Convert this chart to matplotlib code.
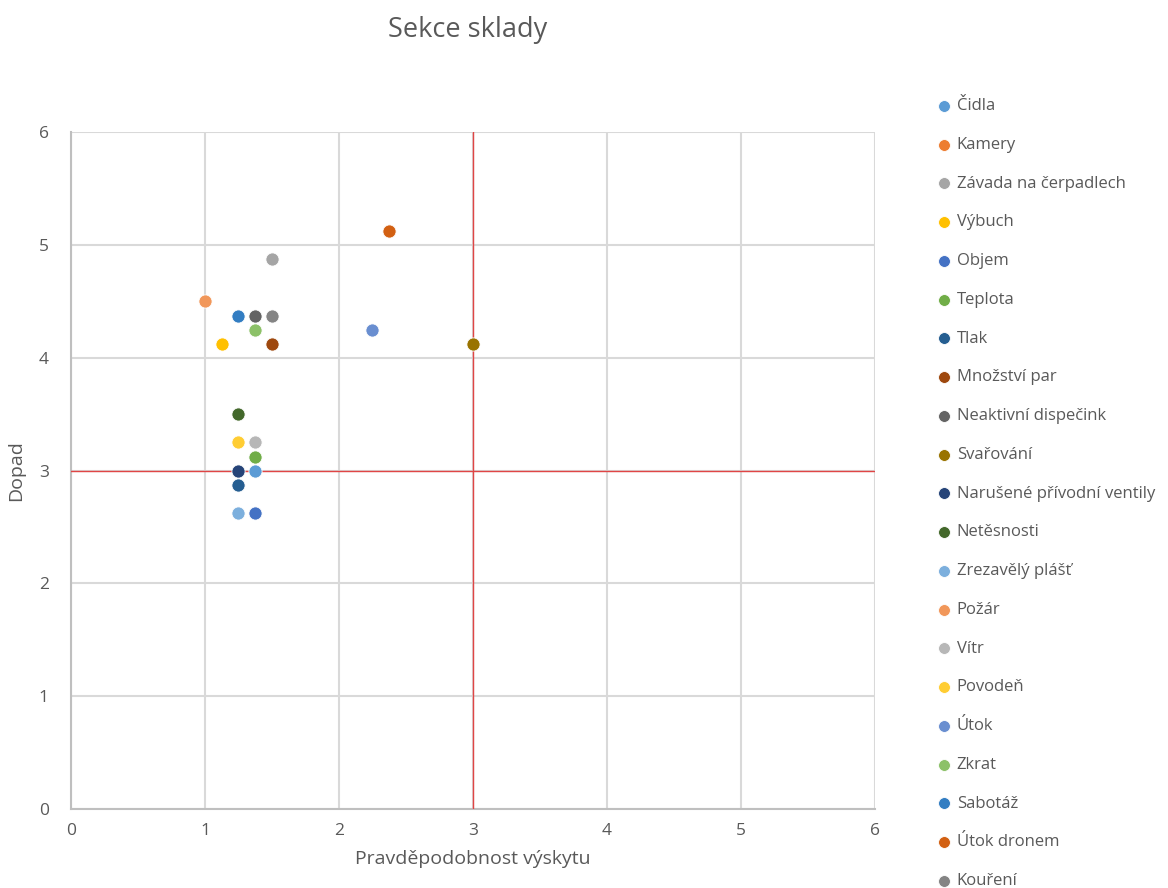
import matplotlib.pyplot as plt

plt.rcParams['font.family'] = ['Open Sans', 'DejaVu Sans']

# risk items: probability (x) and impact (y)
labels = ["Čidla", "Kamery", "Závada na čerpadlech", "Výbuch", "Objem",
          "Teplota", "Tlak", "Množství par", "Neaktivní dispečink", "Svařování",
          "Narušené přívodní ventily", "Netěsnosti", "Zrezavělý plášť", "Požár",
          "Vítr", "Povodeň", "Útok", "Zkrat", "Sabotáž", "Útok dronem", "Kouření"]
pravdepodobnost = [1.375, 2.375, 1.5, 1.125, 1.375,
                   1.375, 1.25, 1.5, 1.375, 3.0,
                   1.25, 1.25, 1.25, 1.0,
                   1.375, 1.25, 2.25, 1.375, 1.25, 2.375, 1.5]
dopad = [3.0, 5.125, 4.875, 4.125, 2.625,
         3.125, 2.875, 4.125, 4.375, 4.125,
         3.0, 3.5, 2.625, 4.5,
         3.25, 3.25, 4.25, 4.25, 4.375, 5.125, 4.375]
barvy = ["#5B9BD5", "#ED7D31", "#A5A5A5", "#FFC000", "#4472C4",
         "#70AD47", "#255E91", "#9E480E", "#636363", "#997300",
         "#264478", "#43682B", "#7CAFDD", "#F1975A",
         "#B7B7B7", "#FFCD33", "#698ED0", "#8CC168", "#327DC2", "#D26012", "#848484"]

hranice = 3  # threshold lines

fig = plt.figure(figsize=(11.68, 8.88), dpi=100)
ax = fig.add_axes([0.0608, 0.089, 0.688, 0.762])

for lab, x, y, c in zip(labels, pravdepodobnost, dopad, barvy):
    ax.scatter(x, y, s=90, color=c, edgecolors='white', linewidths=0.6, label=lab, zorder=4)

ax.axvline(hranice, color='#E04545', lw=1.0, zorder=3)
ax.axhline(hranice, color='#E04545', lw=1.0, zorder=3)

ax.set_xlim(0, 6)
ax.set_ylim(0, 6)
ax.set_xticks(range(7))
ax.set_yticks(range(7))
ax.grid(True, color='#D9D9D9', lw=1.5, zorder=0)
ax.set_axisbelow(True)
for s in ['top', 'right']:
    ax.spines[s].set_visible(False)
for s in ['left', 'bottom']:
    ax.spines[s].set_color('#BFBFBF')
    ax.spines[s].set_linewidth(1.5)
ax.tick_params(axis='both', length=0, labelsize=12.5, labelcolor='#595959')
ax.tick_params(axis='x', pad=10)
ax.tick_params(axis='y', pad=16)

ax.set_xlabel("Pravděpodobnost výskytu", fontsize=14, color='#595959', labelpad=8)
ax.set_ylabel("Dopad", fontsize=14, color='#595959', labelpad=10)
fig.text(0.4007, 0.966, "Sekce sklady", ha='center', va='center', fontsize=19.5, color='#595959')

leg = fig.legend(loc='upper left', bbox_to_anchor=(0.797, 0.897), frameon=False,
                 fontsize=12, labelspacing=1.365, handlelength=0.8, handletextpad=0.35,
                 markerscale=0.9, borderaxespad=0)
for t in leg.get_texts():
    t.set_color('#595959')

fig.savefig("out.png", dpi=100)
